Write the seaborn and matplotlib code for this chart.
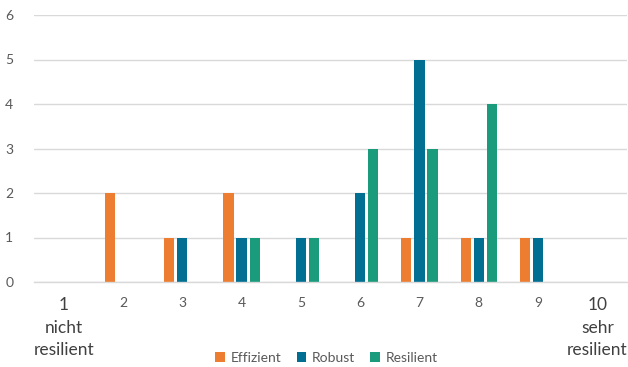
import matplotlib
matplotlib.use("Agg")
import matplotlib.pyplot as plt
import seaborn as sns
import pandas as pd

categories = ["1", "2", "3", "4", "5", "6", "7", "8", "9", "10"]
tick_labels = ["1\nnicht\nresilient", "2", "3", "4", "5", "6", "7", "8", "9", "10\nsehr\nresilient"]
effizient = [0, 2, 1, 2, 0, 0, 1, 1, 1, 0]
robust = [0, 0, 1, 1, 1, 2, 5, 1, 1, 0]
resilient = [0, 0, 0, 1, 1, 3, 3, 4, 0, 0]
series = ["Effizient", "Robust", "Resilient"]
colors = ["#ED7D31", "#006F92", "#1A9C7C"]

df = pd.DataFrame({
    "Kategorie": categories * 3,
    "Wert": effizient + robust + resilient,
    "Reihe": [s for s in series for _ in categories],
})

sns.set_theme(style="white")
plt.rcParams["font.family"] = ["Lato", "DejaVu Sans"]

fig = plt.figure(figsize=(6.28, 3.67), dpi=100)
ax = fig.add_axes([34 / 628, 1 - 282 / 367, 593 / 628, 267 / 367])

sns.barplot(data=df, x="Kategorie", y="Wert", hue="Reihe", palette=colors,
            saturation=1, width=0.66, gap=0.22, linewidth=0, ax=ax, legend=True)

ax.set_ylim(0, 6)
ax.set_yticks(range(0, 7))
ax.set_xlim(-0.5, 9.5)
ax.yaxis.grid(True, color="#D9D9D9", linewidth=1)
ax.set_axisbelow(True)
for s in ["top", "right", "left"]:
    ax.spines[s].set_visible(False)
ax.spines["bottom"].set_color("#D9D9D9")
ax.spines["bottom"].set_linewidth(1)
ax.tick_params(axis="both", length=0, colors="#595959", labelsize=10)
ax.tick_params(axis="y", pad=15)
ax.set_xlabel("")
ax.set_ylabel("")
ax.set_xticks(range(len(categories)))
ax.set_xticklabels(tick_labels, linespacing=1.5)
for i, lbl in enumerate(ax.get_xticklabels()):
    lbl.set_ha("center")
    if i in (0, len(categories) - 1):
        lbl.set_fontsize(12.5)
        lbl.set_color("#404040")
ax.tick_params(axis="x", pad=11)

handles, labels = ax.get_legend_handles_labels()
ax.get_legend().remove()
fig.legend(handles, labels, loc="center", bbox_to_anchor=(0.52, 1 - 358 / 367),
           ncol=3, frameon=False, fontsize=10, handlelength=0.7, handleheight=0.7,
           handletextpad=0.4, columnspacing=1.1, labelcolor="#595959")

fig.savefig("out.png", dpi=100)
